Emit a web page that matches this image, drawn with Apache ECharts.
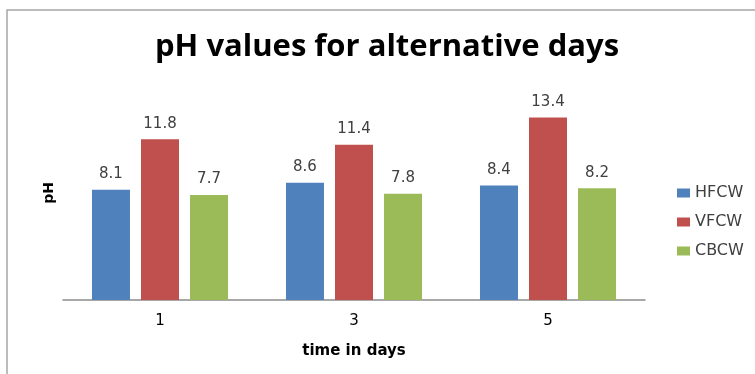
<!DOCTYPE html>
<html>
<head>
<meta charset="utf-8">
<script src="https://cdn.jsdelivr.net/npm/echarts@6/dist/echarts.min.js"></script>
<style>
  html, body { margin: 0; padding: 0; background: #fff; }
  #chart { width: 755px; height: 374px; }
</style>
</head>
<body>
<div id="chart"></div>
<script>
// 数据
var days = ["1", "3", "5"];
var hfcw = [8.1, 8.6, 8.4];
var vfcw = [11.8, 11.4, 13.4];
var cbcw = [7.7, 7.8, 8.2];

(function() {
  var myChart = echarts.init(document.getElementById("chart"));

  var labelStyle = {
    show: true,
    position: "top",
    distance: 8,
    color: "#404040",
    fontFamily: "DejaVu Sans",
    fontSize: 15
  };

  function bar(name, color, data) {
    return {
      name: name,
      type: "bar",
      barWidth: 38,
      barGap: "29%",
      itemStyle: { color: color },
      label: labelStyle,
      data: data
    };
  }

  var option = {
    animation: false,
    title: {
      text: "pH values for alternative days",
      left: 150,
      top: 27,
      textStyle: {
        fontFamily: "Open Sans",
        fontWeight: "bold",
        fontSize: 31,
        color: "#000"
      }
    },
    // 外框 + y轴标题
    graphic: [
      {
        type: "rect",
        shape: { x: 7, y: 10, width: 800, height: 420 },
        style: { fill: "none", stroke: "#a6a6a6", lineWidth: 1.5 }
      },
      {
        type: "text",
        left: 42,
        top: 182,
        rotation: Math.PI / 2,
        style: {
          text: "pH",
          fontFamily: "DejaVu Sans",
          fontWeight: "bold",
          fontSize: 14,
          fill: "#000"
        }
      }
    ],
    legend: {
      orient: "vertical",
      left: 672,
      top: 180,
      itemWidth: 13,
      itemHeight: 9,
      itemGap: 13,
      icon: "rect",
      textStyle: {
        fontFamily: "DejaVu Sans",
        fontSize: 16,
        color: "#404040"
      }
    },
    grid: {
      left: 63,
      right: 110,
      top: 82,
      bottom: 74
    },
    xAxis: {
      type: "category",
      data: days,
      name: "time in days",
      nameLocation: "middle",
      nameGap: 44,
      nameTextStyle: {
        fontFamily: "DejaVu Sans",
        fontWeight: "bold",
        fontSize: 15,
        color: "#000"
      },
      axisTick: { show: false },
      axisLine: { lineStyle: { color: "#8c8c8c", width: 1.5 } },
      axisLabel: {
        margin: 14,
        fontFamily: "DejaVu Sans",
        fontSize: 15,
        color: "#000"
      }
    },
    yAxis: {
      type: "value",
      min: 0,
      max: 16,
      show: false,
      splitLine: { show: false }
    },
    series: [
      bar("HFCW", "#4f81bd", hfcw),
      bar("VFCW", "#c0504d", vfcw),
      bar("CBCW", "#9bbb59", cbcw)
    ]
  };

  myChart.setOption(option);
})();
</script>
</body>
</html>
